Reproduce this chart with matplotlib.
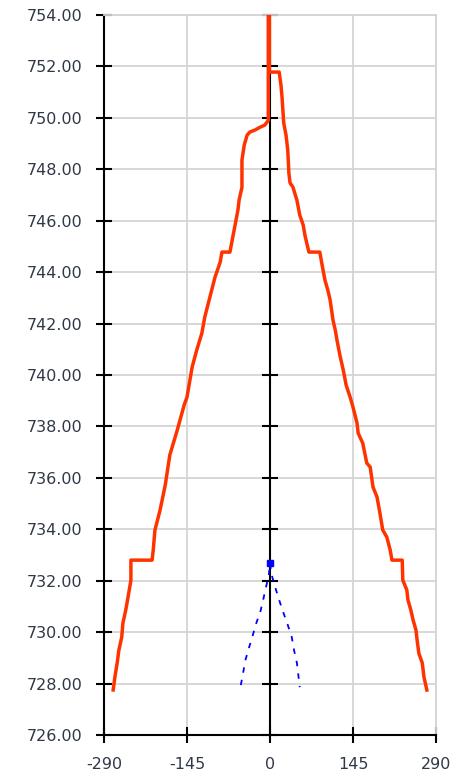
import matplotlib
matplotlib.use("Agg")
import matplotlib.pyplot as plt

# Dwarsprofiel (offset, hoogte)
profiel_x = [-274, -271, -267, -264, -259, -257, -252, -248, -243, -243, -206, -204, -201,
             -192, -183, -175, -162, -150, -145, -136, -128, -119, -114, -105, -96, -87,
             -84, -70, -66, -61, -56, -54, -49, -49, -45, -40, -35, -26, -17, -9, -3, -3,
             -1, -1, 16, 19, 21, 24, 28, 31, 33, 35, 40, 47, 52, 58, 61, 65, 68, 87, 91,
             96, 101, 105, 110, 114, 117, 122, 128, 133, 140, 145, 152, 154, 162, 169,
             175, 180, 187, 192, 197, 204, 210, 213, 231, 232, 239, 241, 246, 250, 255,
             257, 260, 266, 269, 274]
profiel_y = [727.75, 728.25, 728.80, 729.30, 729.81, 730.35, 730.86, 731.36, 732.02, 732.80,
             732.80, 733.19, 733.97, 734.75, 735.72, 736.89, 737.86, 738.83, 739.14,
             740.31, 740.97, 741.63, 742.25, 743.03, 743.81, 744.39, 744.78, 744.78,
             745.25, 745.83, 746.42, 746.80, 747.30, 748.36, 748.94, 749.33, 749.45,
             749.53, 749.64, 749.72, 749.90, 754.00, 754.00, 751.78, 751.78, 751.30,
             750.81, 749.80, 749.33, 748.75, 747.85, 747.47, 747.31, 746.80, 746.22,
             745.83, 745.44, 745.05, 744.78, 744.78, 744.28, 743.69, 743.30, 742.92,
             742.14, 741.75, 741.36, 740.78, 740.19, 739.61, 739.14, 738.75, 738.13,
             737.74, 737.35, 736.58, 736.42, 735.64, 735.25, 734.63, 733.97, 733.70,
             733.19, 732.80, 732.80, 732.02, 731.64, 731.25, 730.86, 730.47, 730.08,
             729.69, 729.18, 728.80, 728.25, 727.75]

# Ontwerp (blauw gestippeld)
ontwerp_x = [-51, -47, -43, -38, -31, -24, -17, -12, -7, -2, 0, 3, 9, 16, 23, 30, 38, 42,
             47, 52]
ontwerp_y = [727.94, 728.41, 728.91, 729.30, 729.81, 730.35, 730.78, 731.25, 731.75,
             732.22, 732.69, 732.22, 731.75, 731.25, 730.78, 730.35, 729.81, 729.30,
             728.80, 727.86]

x_ticks = [-290, -145, 0, 145, 290]
y_ticks = [726, 728, 730, 732, 734, 736, 738, 740, 742, 744, 746, 748, 750, 752, 754]

fig = plt.figure(figsize=(4.62, 7.76), dpi=100)
ax = fig.add_axes([104 / 462, 1 - 735 / 776, 332 / 462, 720 / 776])

ax.set_xlim(-290, 290)
ax.set_ylim(726, 754)
ax.set_xticks(x_ticks)
ax.set_yticks(y_ticks)
ax.set_xticklabels([str(v) for v in x_ticks])
ax.set_yticklabels([f"{v:.2f}" for v in y_ticks])

ax.grid(True, color="#d4d4d4", linewidth=1.3)
ax.set_axisbelow(True)

for kant in ["top", "right"]:
    ax.spines[kant].set_color("#d4d4d4")
    ax.spines[kant].set_linewidth(1.3)
for kant in ["left", "bottom"]:
    ax.spines[kant].set_color("black")
    ax.spines[kant].set_linewidth(1.5)

ax.tick_params(direction="inout", length=11, width=1.5, color="black",
               labelsize=11.5, labelcolor="#303848", pad=10)
for lbl in ax.get_xticklabels() + ax.get_yticklabels():
    lbl.set_family(["DejaVu Sans"])

# middenas met kruisjes
ax.axvline(0, color="black", linewidth=1.5, zorder=2)
ax.plot([0] * len(y_ticks), y_ticks, linestyle="none", marker="_", markersize=11,
        markeredgewidth=1.5, color="black", zorder=2, clip_on=False)

ax.plot(profiel_x, profiel_y, color="#ff3300", linewidth=2.5, zorder=3)
ax.plot(ontwerp_x, ontwerp_y, color="#0000ff", linewidth=1.3, linestyle=(0, (3, 4)),
        zorder=3)
ax.plot([0], [732.69], marker="s", markersize=4, color="#0000ff", zorder=4)

fig.savefig("out.png", dpi=100)
